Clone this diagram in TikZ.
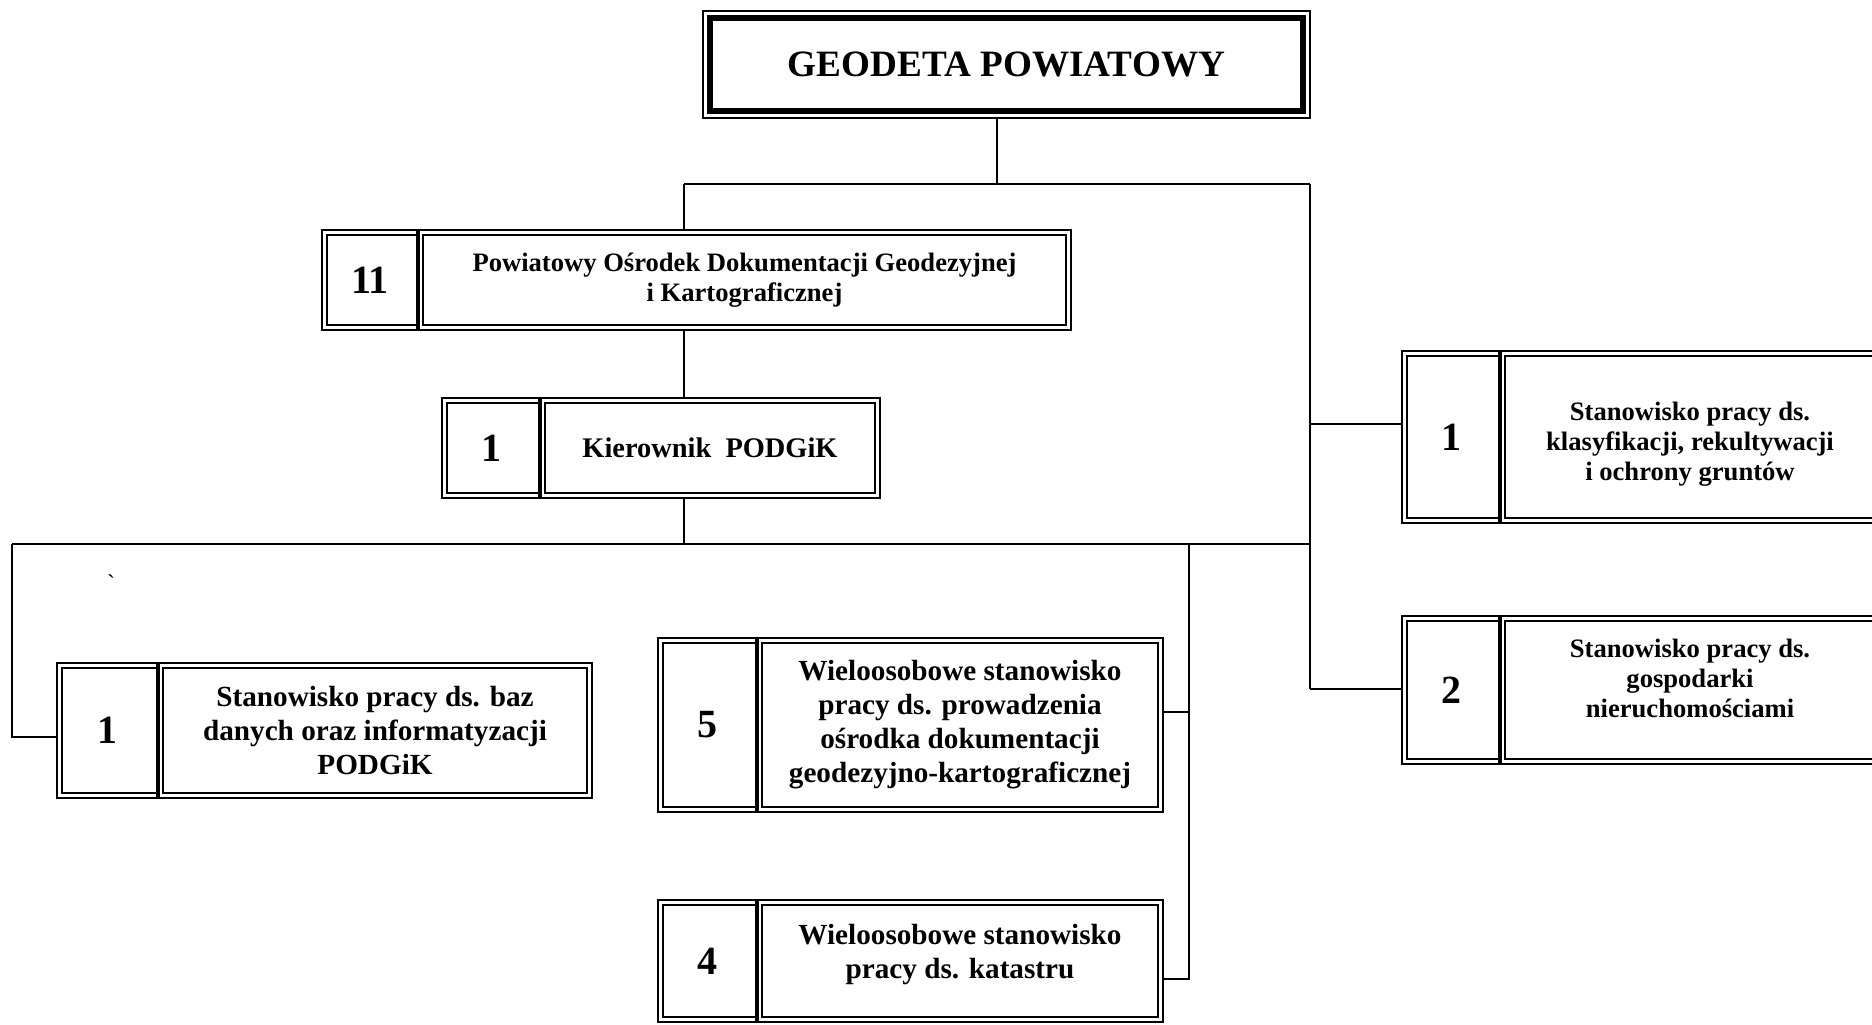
\documentclass[tikz,border=0pt]{standalone}
\usepackage{fontspec}
\setmainfont{Liberation Serif}
\usetikzlibrary{calc}
\tikzset{
  conn/.style={line width=1pt},
  outerline/.style={line width=0.7pt},
  innerline/.style={line width=1.4pt},
  divline/.style={line width=1.6pt},
  orgcell/.style={inner sep=0pt, draw=none, align=center},
  numfont/.style={font=\bfseries\fontsize{20}{24}\selectfont},
  bigtxt/.style={font=\bfseries\fontsize{14.6}{17}\selectfont},
  midtxt/.style={font=\bfseries\fontsize{13.3}{15}\selectfont},
}
% #1 name, #2 x1, #3 xd, #4 x2, #5 y1, #6 y2, #7 number, #8 text style, #9 text
\newcommand\orgbox[9]{%
  \node[orgcell, numfont, minimum width={(#3-#2)*0.5pt}, minimum height={(#6-#5)*0.5pt}]
    (#1n) at ({(#2+#3)/2},{(#5+#6)/2}) {#7};
  \node[orgcell, #8, minimum width={(#4-#3)*0.5pt}, minimum height={(#6-#5)*0.5pt}]
    (#1) at ({(#3+#4)/2},{(#5+#6)/2}) {#9};
  \draw[outerline] (#2,#5) rectangle (#4,#6);
  \draw[innerline] (#3,#5+5) -- (#2+5,#5+5) -- (#2+5,#6-5) -- (#3,#6-5);
  \draw[innerline] (#3+5,#5+5) rectangle (#4-5,#6-5);
  \draw[divline] (#3,#5-1) -- (#3,#6+1);
}
\begin{document}
\begin{tikzpicture}[x=0.5pt,y=-0.5pt]
\useasboundingbox (0,0) rectangle (1872,1024);

% top box
\node[orgcell, font=\bfseries\fontsize{18.6}{22}\selectfont,
      minimum width={(1310-703)*0.5pt}, minimum height={(118-11)*0.5pt}]
  (top) at ({(703+1310)/2},{(11+118)/2}) {GEODETA POWIATOWY};
\draw[outerline] (703,11) rectangle (1310,118);
\draw[line width=3.2pt] (710,18) rectangle (1303,111);

\orgbox{pod}{322}{418}{1071}{230}{330}{11}{midtxt}{Powiatowy Ośrodek Dokumentacji Geodezyjnej\\i Kartograficznej}
\orgbox{kier}{442}{540}{880}{398}{498}{1}{font=\bfseries\fontsize{14.2}{16}\selectfont}{Kierownik\ \ PODGiK}
\orgbox{lb}{57}{158}{592}{663}{798}{1}{bigtxt}{Stanowisko pracy ds. baz\\danych oraz informatyzacji\\PODGiK}
\orgbox{bf}{658}{757}{1163}{638}{812}{5}{bigtxt}{Wieloosobowe stanowisko\\pracy ds. prowadzenia\\ośrodka dokumentacji\\geodezyjno-kartograficznej}
\orgbox{bk}{658}{757}{1163}{900}{1022}{4}{bigtxt, yshift=3.5pt}{Wieloosobowe stanowisko\\pracy ds. katastru}
\orgbox{ra}{1402}{1500}{1880}{351}{523}{1}{midtxt, yshift=-3.5pt}{Stanowisko pracy ds.\\klasyfikacji, rekultywacji\\i ochrony gruntów}
\orgbox{rb}{1402}{1500}{1880}{616}{764}{2}{midtxt, yshift=6pt}{Stanowisko pracy ds.\\gospodarki\\nieruchomościami}

\node[inner sep=0pt, font=\fontsize{12}{14}\selectfont] (tick) at (111,583) {\textasciigrave};

% junction coordinates
\coordinate (cT) at (997,184);
\coordinate (cA) at (684,184);
\coordinate (cB) at (1310,184);
\coordinate (cC) at (12,544);
\coordinate (cD) at (1310,544);
\coordinate (cE) at (1189,544);
\coordinate (cL) at (12,737);
\coordinate (c5) at (1189,712);
\coordinate (c4) at (1189,979);
\coordinate (cR1) at (1310,424);
\coordinate (cR2) at (1310,689);

% connectors
\draw[conn] (top.south -| cT) -- (cT);
\draw[conn] (cA) -- (cB);
\draw[conn] (cA) -- (pod.north -| cA);
\draw[conn] (pod.south -| cA) -- (kier.north -| cA);
\draw[conn] (kier.south -| cA) -- (cA |- cC);
\draw[conn] (cC) -- (cD);
\draw[conn] (cB) -- (cR2);
\draw[conn] (cC) -- (cL) -- (cL -| lbn.west);
\draw[conn] (cE) -- (c4) -- (c4 -| bk.east);
\draw[conn] (c5) -- (c5 -| bf.east);
\draw[conn] (cR1) -- (cR1 -| ran.west);
\draw[conn] (cR2) -- (cR2 -| rbn.west);
\end{tikzpicture}
\end{document}
